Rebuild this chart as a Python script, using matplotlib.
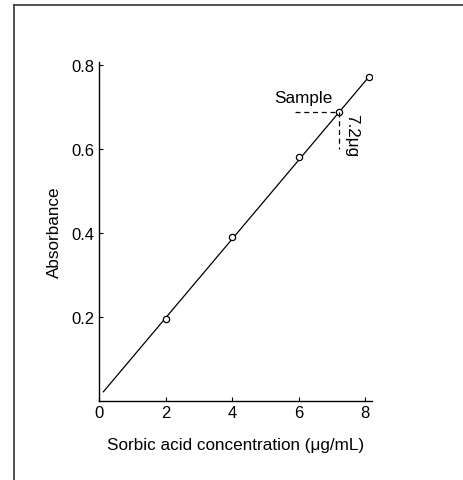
import matplotlib
matplotlib.use("Agg")
import matplotlib.pyplot as plt
from matplotlib.lines import Line2D

plt.rcParams['font.family'] = ['Liberation Sans', 'DejaVu Sans']

conc = [2, 4, 6, 7.2, 8.1]
absorb = [0.196, 0.39, 0.582, 0.689, 0.771]
fit_x = [0.13, 8.1]
fit_y = [0.022, 0.771]
sample_x = 7.2
sample_y = 0.689
xticks = [0, 2, 4, 6, 8]
yticks = [0.2, 0.4, 0.6, 0.8]
ytick_labels = ["0.2", "0.4", "0.6", "0.8"]

fig = plt.figure(figsize=(4.64, 4.81), dpi=100)
ax = fig.add_axes([0.2134, 0.1642, 0.5883, 0.7048])

ax.plot(fit_x, fit_y, color='black', lw=0.9)
ax.plot(conc, absorb, 'o', mfc='white', mec='black', ms=4.5, mew=0.9)
ax.plot([5.9, sample_x], [sample_y, sample_y], ls=(0, (4, 3)), color='black', lw=0.9)
ax.plot([sample_x, sample_x], [sample_y, 0.6], ls=(0, (4, 3)), color='black', lw=0.9)
ax.text(6.13, 0.704, "Sample", fontsize=12.3, ha='center', va='bottom')
ax.text(7.6, 0.635, "7.2μg", fontsize=12.3, ha='center', va='center', rotation=-90)

ax.set_xlim(0, 8.2)
ax.set_ylim(0, 0.807)
ax.set_xticks(xticks)
ax.set_yticks(yticks)
ax.set_yticklabels(ytick_labels)
ax.tick_params(direction='in', length=3, width=0.8, labelsize=12, pad=3)
for s in ['top', 'right']:
    ax.spines[s].set_visible(False)
for s in ['left', 'bottom']:
    ax.spines[s].set_linewidth(1.0)
ax.set_xlabel("Sorbic acid concentration (μg/mL)", fontsize=12.3, labelpad=12)
ax.set_ylabel("Absorbance", fontsize=12.3, labelpad=7)

fig.add_artist(Line2D([14/464, 14/464], [0, 1 - 6/481], transform=fig.transFigure, color='#333333', lw=1.2))
fig.add_artist(Line2D([14/464, 1], [1 - 6/481, 1 - 6/481], transform=fig.transFigure, color='#333333', lw=1.2))

fig.savefig("out.png", dpi=100)
